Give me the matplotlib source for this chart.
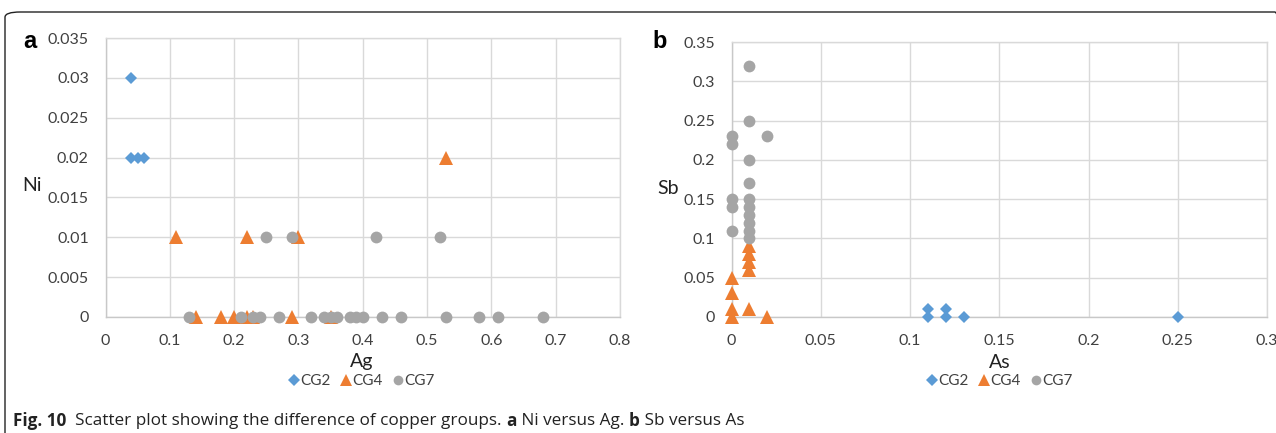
import matplotlib
matplotlib.use("Agg")
import matplotlib.pyplot as plt
from matplotlib.lines import Line2D
from matplotlib.patches import FancyBboxPatch

# ---- data: panel a (Ni vs Ag) ----
a_cg2_x = [0.04, 0.04, 0.05, 0.06]
a_cg2_y = [0.03, 0.02, 0.02, 0.02]
a_cg4_x = [0.11, 0.22, 0.30, 0.53, 0.14, 0.18, 0.20, 0.22, 0.23, 0.29, 0.35]
a_cg4_y = [0.01, 0.01, 0.01, 0.02, 0, 0, 0, 0, 0, 0, 0]
a_cg7_x = [0.25, 0.29, 0.42, 0.52,
           0.13, 0.21, 0.23, 0.24, 0.27, 0.32, 0.34, 0.35, 0.36, 0.38, 0.39,
           0.40, 0.43, 0.46, 0.53, 0.58, 0.61, 0.68]
a_cg7_y = [0.01, 0.01, 0.01, 0.01] + [0] * 18

# ---- data: panel b (Sb vs As) ----
b_cg2_x = [0.11, 0.11, 0.12, 0.12, 0.13, 0.25]
b_cg2_y = [0.01, 0.0, 0.01, 0.0, 0.0, 0.0]
b_cg4_x = [0, 0, 0, 0, 0.01, 0.01, 0.01, 0.01, 0.01, 0.02]
b_cg4_y = [0.05, 0.03, 0.01, 0.0, 0.09, 0.08, 0.07, 0.06, 0.01, 0.0]
b_cg7_x = [0, 0, 0, 0, 0,
           0.01, 0.01, 0.01, 0.01, 0.01, 0.01, 0.01, 0.01, 0.01, 0.01,
           0.02]
b_cg7_y = [0.23, 0.22, 0.15, 0.14, 0.11,
           0.32, 0.25, 0.20, 0.17, 0.15, 0.14, 0.13, 0.12, 0.11, 0.10,
           0.23]

series_names = ["CG2", "CG4", "CG7"]
a_xticks = [0, 0.1, 0.2, 0.3, 0.4, 0.5, 0.6, 0.7, 0.8]
a_xticklabels = ["0", "0.1", "0.2", "0.3", "0.4", "0.5", "0.6", "0.7", "0.8"]
a_yticks = [0, 0.005, 0.01, 0.015, 0.02, 0.025, 0.03, 0.035]
a_yticklabels = ["0", "0.005", "0.01", "0.015", "0.02", "0.025", "0.03", "0.035"]
b_xticks = [0, 0.05, 0.1, 0.15, 0.2, 0.25, 0.3]
b_xticklabels = ["0", "0.05", "0.1", "0.15", "0.2", "0.25", "0.3"]
b_yticks = [0, 0.05, 0.1, 0.15, 0.2, 0.25, 0.3, 0.35]
b_yticklabels = ["0", "0.05", "0.1", "0.15", "0.2", "0.25", "0.3", "0.35"]

caption_parts = [("Fig. 10", "bold"), ("  Scatter plot showing the difference of copper groups. ", "normal"),
                 ("a", "bold"), (" Ni versus Ag. ", "normal"), ("b", "bold"), (" Sb versus As", "normal")]

BLUE = "#5B9BD5"
ORANGE = "#ED7D31"
GRAY = "#A5A5A5"
GRID = "#D9D9D9"
TXT = "#404040"

W, H = 1276, 433
fig = plt.figure(figsize=(W / 100, H / 100), dpi=100)
fig.patch.set_facecolor("white")

def fx(px):
    return px / W

def fy(py):
    return 1 - py / H

# figure frame
frame = FancyBboxPatch((fx(5), fy(440)), fx(1290) - fx(5), fy(12) - fy(440),
                       boxstyle="round,pad=0,rounding_size=0.012",
                       transform=fig.transFigure, facecolor="none",
                       edgecolor="#222222", linewidth=1.0, clip_on=False)
fig.patches.append(frame)

def style_ax(ax, xt, xtl, yt, ytl, xlim, ylim):
    ax.set_xlim(*xlim)
    ax.set_ylim(*ylim)
    ax.set_xticks(xt)
    ax.set_xticklabels(xtl)
    ax.set_yticks(yt)
    ax.set_yticklabels(ytl)
    ax.grid(True, color=GRID, linewidth=1.0)
    ax.set_axisbelow(True)
    for s in ["top", "right"]:
        ax.spines[s].set_color(GRID)
        ax.spines[s].set_linewidth(1.0)
    for s in ["left", "bottom"]:
        ax.spines[s].set_color("#C8C8C8")
        ax.spines[s].set_linewidth(1.0)
    ax.tick_params(axis="x", length=0, labelsize=11.5, labelcolor=TXT, pad=12)
    ax.tick_params(axis="y", length=0, labelsize=11.5, labelcolor=TXT, pad=12)
    for lab in ax.get_xticklabels() + ax.get_yticklabels():
        lab.set_family("Lato")

def draw(ax, d2, d4, d7):
    ax.plot(d2[0], d2[1], linestyle="none", marker="D", markersize=6.5,
            color=BLUE, markeredgewidth=0, clip_on=False, zorder=3)
    ax.plot(d4[0], d4[1], linestyle="none", marker="^", markersize=10,
            color=ORANGE, markeredgewidth=0, clip_on=False, zorder=3)
    ax.plot(d7[0], d7[1], linestyle="none", marker="o", markersize=8.5,
            color=GRAY, markeredgewidth=0, clip_on=False, zorder=3)

def legend(cx, cy):
    handles = [
        Line2D([], [], linestyle="none", marker="D", markersize=6, color=BLUE, markeredgewidth=0),
        Line2D([], [], linestyle="none", marker="^", markersize=8.5, color=ORANGE, markeredgewidth=0),
        Line2D([], [], linestyle="none", marker="o", markersize=7, color=GRAY, markeredgewidth=0),
    ]
    lg = fig.legend(handles, series_names, loc="center", bbox_to_anchor=(fx(cx), fy(cy)),
                    ncol=3, frameon=False, handlelength=0.6, handletextpad=0.1,
                    columnspacing=0.7, prop={"family": "Lato", "size": 11})
    for t in lg.get_texts():
        t.set_color(TXT)

# ---- panel a ----
axa = fig.add_axes([fx(105.5), fy(317), fx(620) - fx(105.5), fy(38) - fy(317)])
style_ax(axa, a_xticks, a_xticklabels, a_yticks, a_yticklabels, (0, 0.8), (0, 0.035))
draw(axa, (a_cg2_x, a_cg2_y), (a_cg4_x, a_cg4_y), (a_cg7_x, a_cg7_y))
fig.text(fx(362), fy(362), "Ag", family="Lato", fontsize=14, color="#222222", ha="center", va="center")
fig.text(fx(32), fy(185), "Ni", family="Lato", fontsize=14, color="#222222", ha="center", va="center")
fig.text(fx(30), fy(42), "a", family="Liberation Sans", fontweight="bold", fontsize=17, color="black", ha="center", va="center")
legend(362, 381)

# ---- panel b ----
axb = fig.add_axes([fx(731.5), fy(317), fx(1267) - fx(731.5), fy(42) - fy(317)])
style_ax(axb, b_xticks, b_xticklabels, b_yticks, b_yticklabels, (0, 0.3), (0, 0.35))
draw(axb, (b_cg2_x, b_cg2_y), (b_cg4_x, b_cg4_y), (b_cg7_x, b_cg7_y))
fig.text(fx(1000), fy(362), "As", family="Lato", fontsize=14, color="#222222", ha="center", va="center")
fig.text(fx(668), fy(188), "Sb", family="Lato", fontsize=14, color="#222222", ha="center", va="center")
fig.text(fx(660), fy(42), "b", family="Liberation Sans", fontweight="bold", fontsize=17, color="black", ha="center", va="center")
legend(1000, 381)

# ---- caption (mixed bold / regular) ----
renderer = fig.canvas.get_renderer()
xpos = 13.0
for txt, wt in caption_parts:
    t = fig.text(fx(xpos), fy(421), txt, fontsize=12.3, fontweight=wt,
                 color="#222222", ha="left", va="center", family="Open Sans")
    bb = t.get_window_extent(renderer=renderer)
    xpos += bb.width

fig.savefig("out.png", dpi=100)
